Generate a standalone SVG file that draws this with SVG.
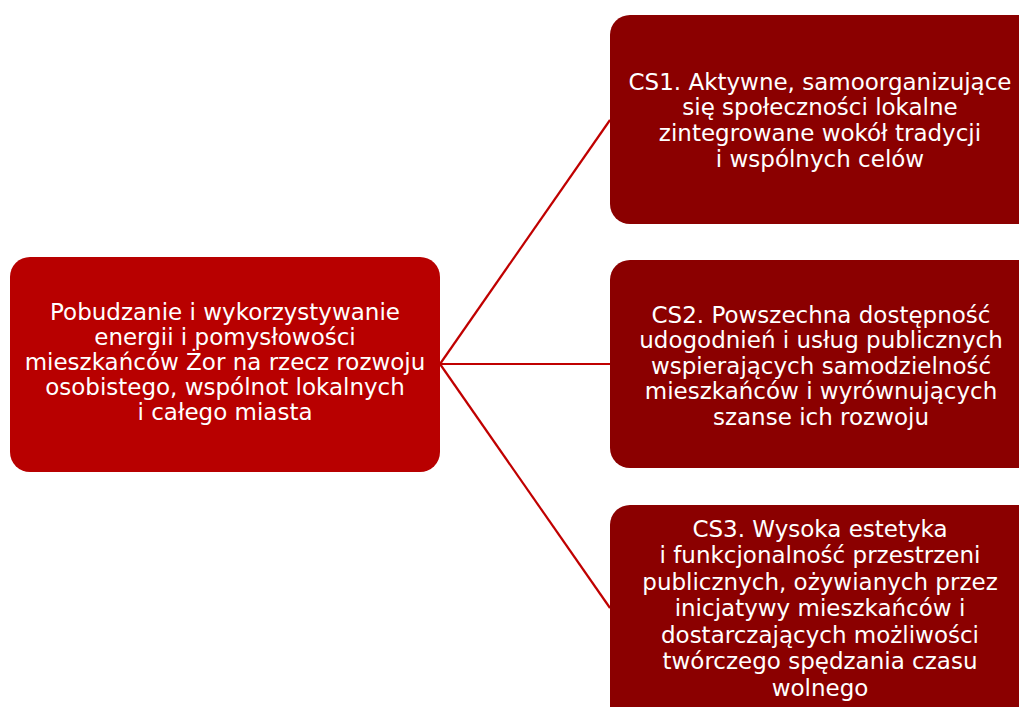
<svg xmlns="http://www.w3.org/2000/svg" width="1019" height="707" viewBox="0 0 1019 707">
<style>
.main{fill:#B80000;}
.sub{fill:#8B0000;}
.t{font-family:"DejaVu Sans","Liberation Sans",sans-serif;font-size:23px;fill:#FFFFFF;text-anchor:middle;}
.c{stroke:#C00000;stroke-width:2.2;fill:none;}
</style>
<rect width="1019" height="707" fill="#FFFFFF"/>
<g id="connectors">
<line class="c" x1="440" y1="364" x2="610" y2="120"/>
<line class="c" x1="440" y1="364" x2="610" y2="364"/>
<line class="c" x1="440" y1="364" x2="610" y2="608"/>
</g>
<g id="root">
<rect class="main" x="10" y="257" width="430" height="215" rx="20"/>
<text class="t" x="225" y="320">Pobudzanie i wykorzystywanie</text>
<text class="t" x="225" y="345">energii i pomysłowości</text>
<text class="t" x="225" y="370">mieszkańców Żor na rzecz rozwoju</text>
<text class="t" x="225" y="395">osobistego, wspólnot lokalnych</text>
<text class="t" x="225" y="420">i całego miasta</text>
</g>
<g id="cs1">
<rect class="sub" x="610" y="15" width="440" height="209" rx="20"/>
<text class="t" x="820" y="90">CS1. Aktywne, samoorganizujące</text>
<text class="t" x="820" y="115">się społeczności lokalne</text>
<text class="t" x="820" y="141">zintegrowane wokół tradycji</text>
<text class="t" x="820" y="167">i wspólnych celów</text>
</g>
<g id="cs2">
<rect class="sub" x="610" y="260" width="440" height="208" rx="20"/>
<text class="t" x="821" y="323">CS2. Powszechna dostępność</text>
<text class="t" x="821" y="348">udogodnień i usług publicznych</text>
<text class="t" x="821" y="374">wspierających samodzielność</text>
<text class="t" x="821" y="399">mieszkańców i wyrównujących</text>
<text class="t" x="821" y="425">szanse ich rozwoju</text>
</g>
<g id="cs3">
<rect class="sub" x="610" y="505" width="440" height="230" rx="20"/>
<text class="t" x="820" y="537">CS3. Wysoka estetyka</text>
<text class="t" x="820" y="563">i funkcjonalność przestrzeni</text>
<text class="t" x="820" y="590">publicznych, ożywianych przez</text>
<text class="t" x="820" y="616">inicjatywy mieszkańców i</text>
<text class="t" x="820" y="643">dostarczających możliwości</text>
<text class="t" x="820" y="669">twórczego spędzania czasu</text>
<text class="t" x="820" y="696">wolnego</text>
</g>
</svg>
